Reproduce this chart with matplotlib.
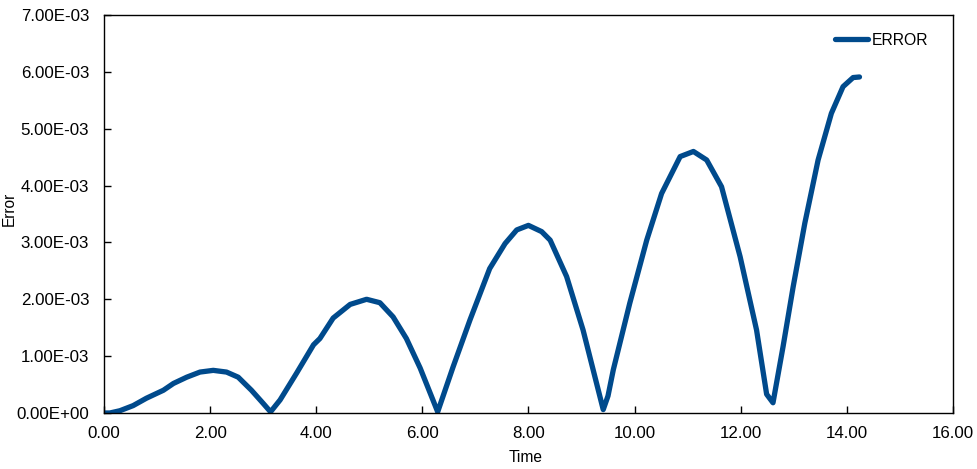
import matplotlib
matplotlib.use('Agg')
import matplotlib.pyplot as plt
from matplotlib.ticker import FuncFormatter

plt.rcParams['font.family'] = ['Liberation Sans', 'DejaVu Sans']

# time values
time = [0.0, 0.11, 0.30, 0.55, 0.80, 1.12, 1.31, 1.56, 1.81, 2.06, 2.31, 2.53,
        2.78, 3.0, 3.14, 3.32, 3.63, 3.95, 4.07, 4.32, 4.64, 4.95, 5.2, 5.45,
        5.70, 5.96, 6.14, 6.29, 6.58, 6.90, 7.27, 7.56, 7.78, 8.0, 8.25, 8.41,
        8.72, 9.03, 9.22, 9.41, 9.50, 9.60, 9.91, 10.23, 10.51, 10.86, 11.11,
        11.36, 11.64, 11.99, 12.30, 12.49, 12.61, 12.80, 12.99, 13.21, 13.46,
        13.71, 13.93, 14.12, 14.24]
# error in units of 1e-3
error_e3 = [0.0, 0.0, 0.04, 0.13, 0.26, 0.40, 0.52, 0.63, 0.72, 0.75, 0.72,
            0.63, 0.40, 0.17, 0.02, 0.23, 0.70, 1.20, 1.31, 1.67, 1.91, 2.0,
            1.94, 1.69, 1.31, 0.79, 0.37, 0.02, 0.81, 1.64, 2.54, 2.98, 3.22,
            3.30, 3.19, 3.04, 2.40, 1.46, 0.76, 0.06, 0.30, 0.76, 1.93, 3.04,
            3.86, 4.51, 4.60, 4.45, 3.98, 2.75, 1.46, 0.33, 0.18, 1.17, 2.22,
            3.34, 4.45, 5.27, 5.74, 5.90, 5.91]
error = [v * 1e-3 for v in error_e3]

fig = plt.figure(figsize=(9.78, 4.69), dpi=100)
ax = fig.add_axes([0.1063, 0.1194, 0.868, 0.8486])

ax.plot(time, error, color='#004a8c', linewidth=3.8, label='ERROR',
        solid_capstyle='round', solid_joinstyle='round')

ax.set_xlim(0, 16)
ax.set_ylim(0, 7e-3)
ax.set_xticks(range(0, 17, 2))
ax.set_yticks([i * 1e-3 for i in range(8)])
ax.xaxis.set_major_formatter(FuncFormatter(lambda v, p: '%.2f' % v))
ax.yaxis.set_major_formatter(FuncFormatter(lambda v, p: '%.2E' % v))
ax.tick_params(direction='in', length=5, width=1, labelsize=12.2, colors='black')
ax.tick_params(axis='y', pad=10.6)
ax.tick_params(axis='x', pad=9.5)
for s in ax.spines.values():
    s.set_linewidth(1)
    s.set_color('black')

ax.set_xlabel('Time', fontsize=11.2)
ax.xaxis.set_label_coords(0.4965, -0.093)
ax.set_ylabel('Error', fontsize=11.2)
ax.yaxis.set_label_coords(-0.103, 0.514)

leg = ax.legend(loc='center left', frameon=False, fontsize=11.3,
                handlelength=2.1, handletextpad=0.23, borderaxespad=0,
                borderpad=0.4, bbox_to_anchor=(0.8536, 0.937))

fig.savefig('out.png', dpi=100)
